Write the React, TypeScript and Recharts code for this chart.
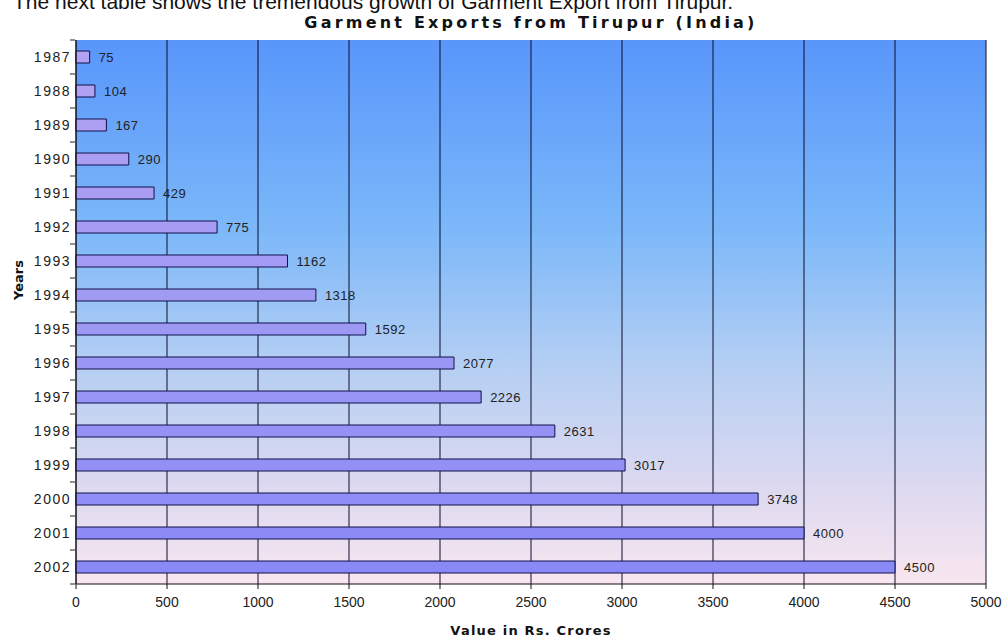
import React from 'react';
import { BarChart, Bar, XAxis, YAxis, CartesianGrid, LabelList } from 'recharts';

const years = ['1987', '1988', '1989', '1990', '1991', '1992', '1993', '1994', '1995', '1996', '1997', '1998', '1999', '2000', '2001', '2002'];
const exportsValue = [75, 104, 167, 290, 429, 775, 1162, 1318, 1592, 2077, 2226, 2631, 3017, 3748, 4000, 4500];
const xTicks = [0, 500, 1000, 1500, 2000, 2500, 3000, 3500, 4000, 4500, 5000];

const data = years.map((year, i) => ({ year, value: exportsValue[i] }));

const W = 1002;
const H = 642;
const TOP = 40;
const BOTTOM = 58;
const BAND = (H - TOP - BOTTOM) / years.length;

const YearTick = (props: any) => {
  const { x, y, payload, index } = props;
  return (
    <g>
      <text x={x + 3} y={y} dy={5} textAnchor="end" fontSize={14} letterSpacing={1.5} fill="#222">
        {payload.value}
      </text>
      <line x1={x + 2} x2={x + 7} y1={y - BAND / 2} y2={y - BAND / 2} stroke="#222" />
      {index === years.length - 1 && (
        <line x1={x + 2} x2={x + 7} y1={y + BAND / 2} y2={y + BAND / 2} stroke="#222" />
      )}
    </g>
  );
};

const boldFont = '"DejaVu Sans", Verdana, sans-serif';

export default function App() {
  return (
    <div style={{ position: 'absolute', left: 0, top: 0, width: W, height: H, background: '#fff', fontFamily: 'Arial, "Liberation Sans", sans-serif' }}>
      <div style={{ position: 'absolute', left: 13, top: -10, fontSize: 21, lineHeight: '24px', color: '#111', whiteSpace: 'nowrap' }}>
        The next table shows the tremendous growth of Garment Export from Tirupur.
      </div>
      <div style={{ position: 'absolute', left: 0, width: 1062, top: 14, lineHeight: '18px', textAlign: 'center', fontFamily: boldFont, fontSize: 16, fontWeight: 'bold', letterSpacing: 3.2, color: '#111' }}>
        Garment Exports from Tirupur (India)
      </div>
      <div style={{ position: 'absolute', left: 18, top: 280, transform: 'translate(-50%, -50%) rotate(-90deg)', fontFamily: boldFont, fontSize: 13, fontWeight: 'bold', color: '#111' }}>
        Years
      </div>
      <div style={{ position: 'absolute', left: 0, width: 1062, top: 623, textAlign: 'center', fontFamily: boldFont, fontSize: 13, fontWeight: 'bold', letterSpacing: 1.2, color: '#111' }}>
        Value in Rs. Crores
      </div>
      <BarChart
        width={W}
        height={H}
        data={data}
        layout="vertical"
        barCategoryGap={0}
        margin={{ top: TOP, right: 16, bottom: 0, left: 0 }}
        style={{ position: 'absolute', left: 0, top: 0 }}
      >
        <defs>
          <linearGradient id="bg" x1="0" y1="0" x2="0" y2="1">
            <stop offset="0%" stopColor="#5896fb" />
            <stop offset="35%" stopColor="#7cb8f9" />
            <stop offset="60%" stopColor="#b5cff3" />
            <stop offset="82%" stopColor="#dcd9f0" />
            <stop offset="100%" stopColor="#f8e6ef" />
          </linearGradient>
          <linearGradient id="barFill" gradientUnits="userSpaceOnUse" x1="0" y1={TOP} x2="0" y2={H - BOTTOM}>
            <stop offset="0%" stopColor="#b4a2f2" />
            <stop offset="50%" stopColor="#a09af4" />
            <stop offset="100%" stopColor="#8888f7" />
          </linearGradient>
        </defs>
        <CartesianGrid horizontal={false} vertical stroke="#0d0d2a" fill="url(#bg)" fillOpacity={1} />
        <XAxis
          type="number"
          domain={[0, 5000]}
          ticks={xTicks}
          interval={0}
          height={BOTTOM}
          tickSize={5}
          tickMargin={8}
          tick={{ fontSize: 14, fill: '#222' }}
          axisLine={{ stroke: '#111' }}
          tickLine={{ stroke: '#111' }}
        />
        <XAxis
          xAxisId="top"
          orientation="top"
          type="number"
          domain={[0, 5000]}
          height={0}
          tick={false}
          tickLine={false}
          axisLine={{ stroke: '#111' }}
        />
        <YAxis
          type="category"
          dataKey="year"
          width={76}
          interval={0}
          tickLine={false}
          axisLine={{ stroke: '#111' }}
          tick={<YearTick />}
        />
        <Bar dataKey="value" fill="url(#barFill)" stroke="#10104a" strokeWidth={1} barSize={12} isAnimationActive={false}>
          <LabelList dataKey="value" position="right" offset={9} fontSize={13} letterSpacing={0.5} fill="#222" />
        </Bar>
      </BarChart>
    </div>
  );
}
